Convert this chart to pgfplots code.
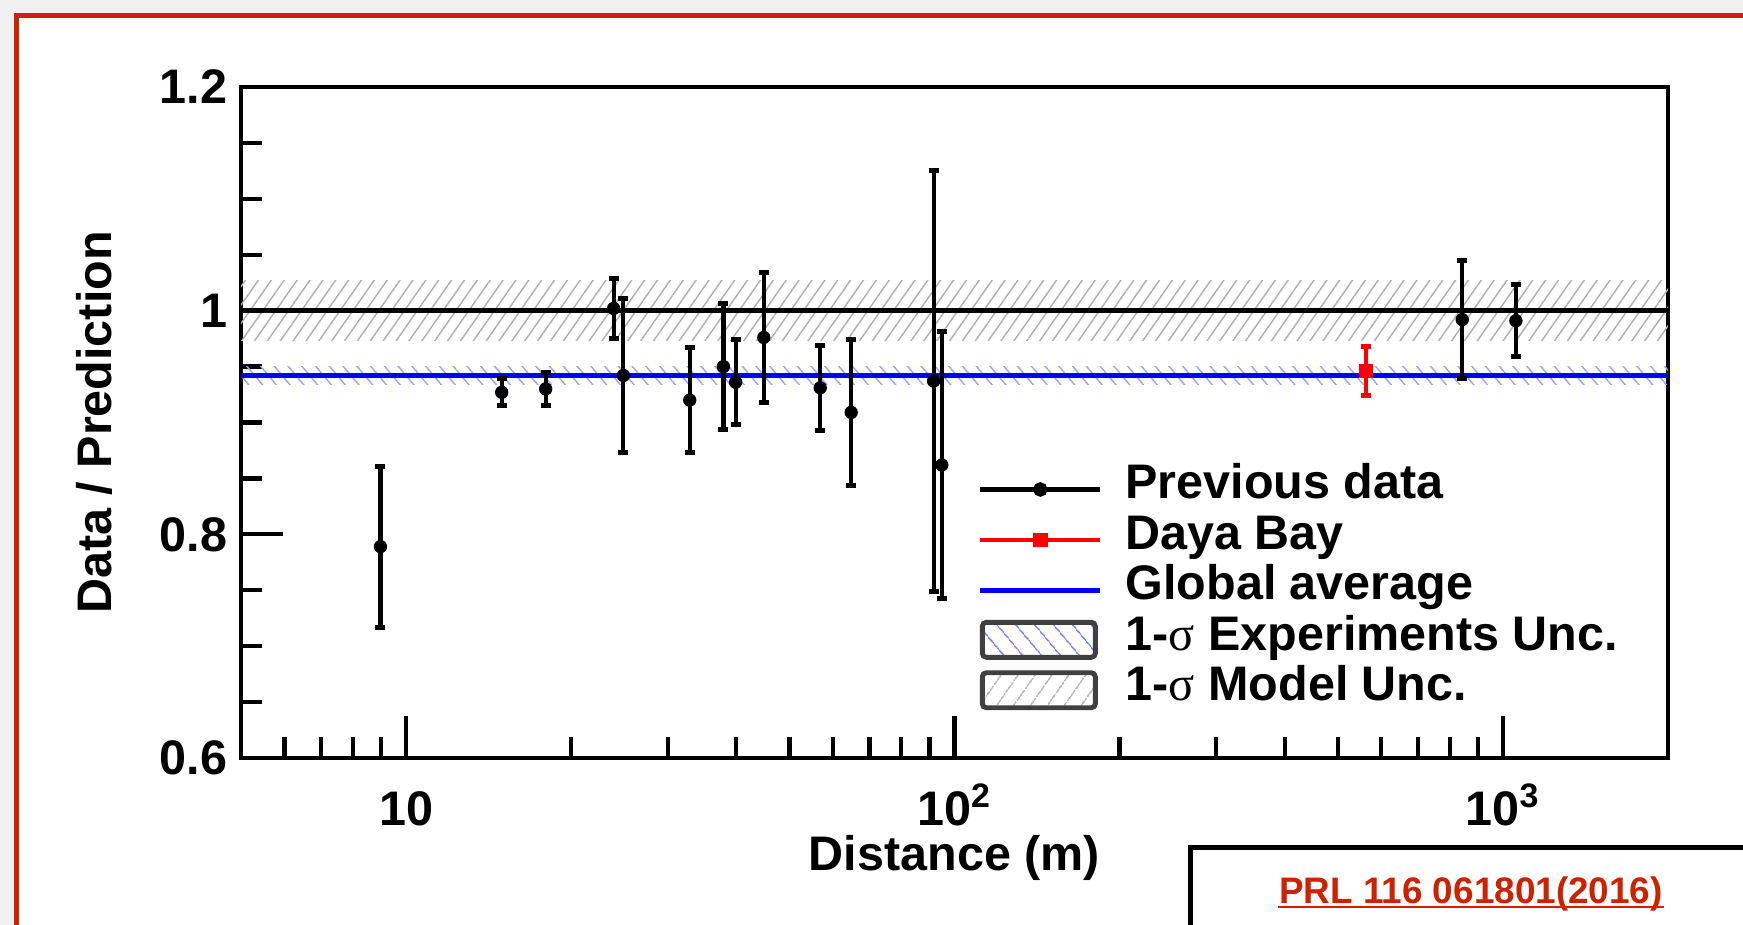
\documentclass[border=0pt]{standalone}
\usepackage{fontspec}
\setmainfont{Liberation Sans}
\newfontfamily\greekfont{Liberation Serif}
\usepackage{pgfplots}
\pgfplotsset{compat=1.18}
\usepackage{pgfplotstable}
\usetikzlibrary{patterns.meta}

\definecolor{prlred}{RGB}{204,34,0}
\definecolor{slidegray}{RGB}{240,240,240}
\definecolor{hatchblue}{RGB}{160,160,255}
\definecolor{hatchgray}{RGB}{175,175,175}

\newcommand{\sig}{{\greekfont\mdseries σ}}

% distance (m), data/prediction, error
\pgfplotstableread{
x      y      e
8.98   0.789  0.072
14.94  0.927  0.012
17.97  0.930  0.015
23.9   1.002  0.027
24.9   0.942  0.069
32.9   0.920  0.047
37.9   0.950  0.056
39.9   0.936  0.038
44.9   0.976  0.058
56.9   0.931  0.038
64.8   0.909  0.065
91.6   0.937  0.188
94.8   0.862  0.119
843    0.992  0.053
1056   0.991  0.032
}\prevdata

\pgfplotstableread{
x      y      e
563    0.946  0.0216
}\dayabay

\pgfplotsset{
  leg line/.style={legend image code/.code={%
    \draw[mark repeat=2,mark phase=2,##1] plot coordinates {(0mm,-0.15mm)(6mm,-0.15mm)(12mm,-0.15mm)};}},
  leg expbox/.style={legend image code/.code={%
    \draw[line width=1.4pt, draw=black!75, rounded corners=0.4mm,
      pattern={Lines[angle=-50,distance=4pt,line width=0.45pt]}, pattern color=hatchblue!80!blue]
      (0.2mm,-1.8mm) rectangle (11.5mm,1.7mm);}},
  leg modbox/.style={legend image code/.code={%
    \draw[line width=1.4pt, draw=black!75, rounded corners=0.4mm,
      pattern={Lines[angle=55,distance=4pt,line width=0.45pt]}, pattern color=hatchgray]
      (0.2mm,-1.8mm) rectangle (11.5mm,1.7mm);}},
}

\begin{document}
\begin{tikzpicture}[font=\bfseries\fontsize{13.8}{16}\selectfont]
\path[use as bounding box] (0,0) rectangle (174.3mm,92.5mm);
\fill[slidegray] (0,0) rectangle (174.3mm,92.5mm);
\fill[white] (1.65mm,0) rectangle (174.3mm,90.97mm);
\draw[prlred, line width=0.45mm] (1.65mm,-1mm) -- (1.65mm,90.97mm) -- (176mm,90.97mm);

\begin{axis}[
  at={(24.1mm,16.7mm)}, anchor=south west,
  scale only axis, width=142.7mm, height=67.1mm,
  xmode=log, xmin=5, xmax=2000,
  ymin=0.6, ymax=1.2,
  xtick={10,100,1000},
  xticklabels={10,10\textsuperscript{2},10\textsuperscript{3}},
  minor xtick={6,7,8,9,20,30,40,50,60,70,80,90,200,300,400,500,600,700,800,900},
  ytick={0.6,0.8,1,1.2},
  yticklabels={0.6,0.8,1,1.2},
  minor ytick={0.65,0.7,0.75,0.85,0.9,0.95,1.05,1.1,1.15},
  xtick pos=bottom, ytick pos=left, tick align=inside,
  major tick length=4.2mm, minor tick length=2.1mm,
  tick style={black, line width=1.2pt},
  axis line style={line width=1.3pt},
  tick label style={font=\bfseries\fontsize{13.8}{16}\selectfont},
  yticklabel style={inner sep=0pt, xshift=-1.3mm},
  xticklabel style={inner sep=0pt, anchor=base, yshift=-6.8mm},
  xlabel={Distance (m)},
  ylabel={Data / Prediction},
  every axis x label/.style={at={(axis description cs:0.5,-0.168)}, anchor=base, inner sep=0pt},
  every axis y label/.style={at={(axis description cs:-0.1027,0.5)}, anchor=center, rotate=90},
  legend style={at={(0.516,0.441)}, anchor=north west, draw=none, fill=none,
    inner sep=0pt, column sep=2.3mm, row sep=0pt,
    nodes={inner sep=0pt, text height=10.3pt, text depth=4.05pt},
    font=\bfseries\fontsize{13.8}{16}\selectfont},
  legend cell align=left,
]
% 1-sigma model band
\addplot[draw=none, pattern={Lines[angle=55,distance=3pt,line width=0.4pt]}, pattern color=hatchgray, forget plot]
  coordinates {(5,0.973) (2000,0.973) (2000,1.027) (5,1.027)};
% 1-sigma experiments band
\addplot[draw=none, pattern={Lines[angle=-50,distance=3pt,line width=0.4pt]}, pattern color=hatchblue, forget plot]
  coordinates {(5,0.934) (2000,0.934) (2000,0.950) (5,0.950)};
\addplot[black, line width=1.3pt, forget plot] coordinates {(5,1) (2000,1)};
\addplot[blue, line width=1.3pt, forget plot] coordinates {(5,0.942) (2000,0.942)};

\addplot[black, only marks, mark=*, mark size=1.7pt, forget plot,
  error bars/.cd, y dir=both, y explicit,
  error bar style={line width=1.2pt, black},
  error mark options={rotate=90, black, mark size=0.5mm, line width=1.4pt}]
  table[x=x, y=y, y error=e] {\prevdata};
\addplot[red, only marks, mark=square*, mark size=1.7pt, forget plot,
  error bars/.cd, y dir=both, y explicit,
  error bar style={line width=1.2pt, red},
  error mark options={rotate=90, red, mark size=0.5mm, line width=1.4pt}]
  table[x=x, y=y, y error=e] {\dayabay};

\addlegendimage{leg line, black, line width=1.3pt, mark=*, mark size=1.4pt}
\addlegendentry{Previous data}
\addlegendimage{leg line, red, line width=1.3pt, mark=square*, mark size=1.4pt}
\addlegendentry{Daya Bay}
\addlegendimage{leg line, blue, line width=1.3pt}
\addlegendentry{Global average}
\addlegendimage{leg expbox}
\addlegendentry{1-\sig{} Experiments Unc.}
\addlegendimage{leg modbox}
\addlegendentry{1-\sig{} Model Unc.}
\end{axis}

\draw[black, line width=0.5mm] (119.0mm,-1mm) -- (119.0mm,7.7mm) -- (176mm,7.7mm);
\node[anchor=base, inner sep=0pt, text=prlred, font=\bfseries\fontsize{10.5}{12}\selectfont] (prl) at (147.1mm,2.1mm) {PRL 116 061801(2016)};
\draw[prlred, line width=0.25mm] ([yshift=-0.3mm]prl.base west) -- ([yshift=-0.3mm]prl.base east);
\end{tikzpicture}
\end{document}
